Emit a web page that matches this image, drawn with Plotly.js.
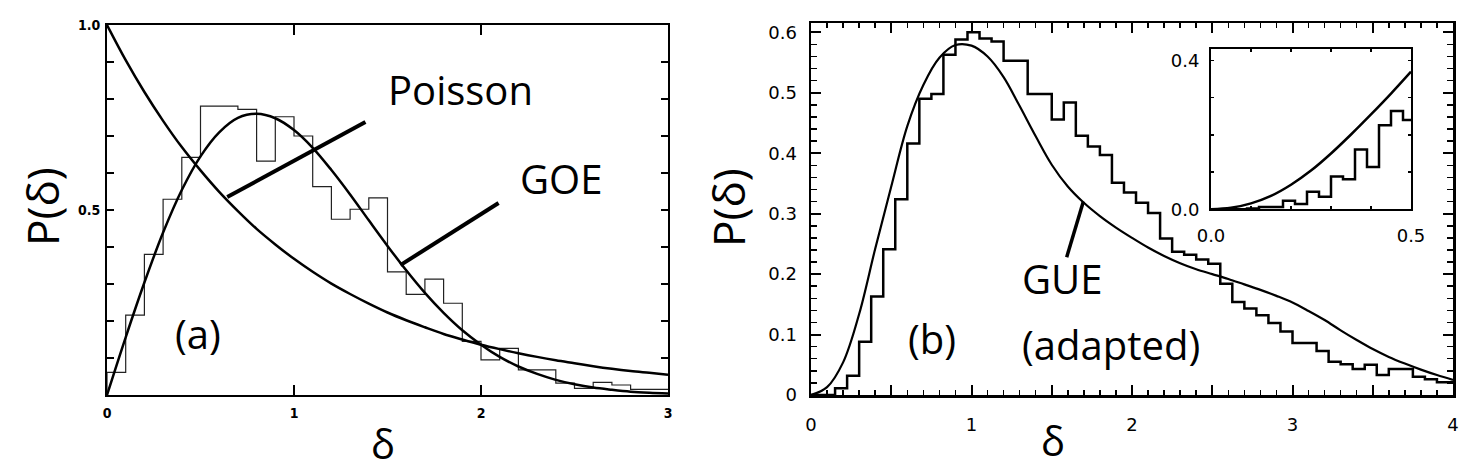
<!DOCTYPE html>
<html>
<head>
<meta charset="utf-8">
<script src="https://cdn.plot.ly/plotly-3.0.1.min.js"></script>
<style>html,body{margin:0;padding:0;background:#fff;}#chart{width:1475px;height:473px;}</style>
</head>
<body>
<div id="chart"></div>
<script>
// ---------- Panel (a) ----------
const aCurveX = [0,0.1,0.2,0.3,0.4,0.5,0.6,0.7,0.8,0.9,1.0,1.1,1.2,1.3,1.4,1.5,1.6,1.7,1.8,1.9,2.0,2.1,2.2,2.3,2.4,2.5,2.6,2.7,2.8,2.9,3.0];
const poissonY = [1.000,0.905,0.819,0.741,0.670,0.607,0.549,0.497,0.449,0.407,0.368,0.333,0.301,0.273,0.247,0.223,0.202,0.183,0.165,0.150,0.136,0.124,0.113,0.103,0.094,0.086,0.078,0.071,0.065,0.060,0.055];
const goeY = [0,0.156,0.304,0.439,0.554,0.645,0.710,0.749,0.760,0.748,0.716,0.668,0.608,0.542,0.472,0.403,0.337,0.276,0.222,0.175,0.136,0.103,0.077,0.057,0.041,0.029,0.020,0.014,0.009,0.006,0.004];
const histAEdges = [0,0.1,0.2,0.3,0.4,0.5,0.6,0.7,0.8,0.9,1.0,1.1,1.2,1.3,1.4,1.5,1.6,1.7,1.8,1.9,2.0,2.1,2.2,2.3,2.4,2.5,2.6,2.7,2.8,2.9,3.0];
const histAValues = [0.061,0.216,0.380,0.529,0.642,0.781,0.781,0.772,0.632,0.752,0.700,0.563,0.475,0.502,0.533,0.333,0.272,0.313,0.248,0.145,0.095,0.126,0.068,0.068,0.032,0.018,0.034,0.027,0.015,0.015];
const aXTickVals = [0,1,2,3];
const aXTickText = ['0','1','2','3'];
const aYTickVals = [0,0.1,0.2,0.3,0.4,0.5,0.6,0.7,0.8,0.9,1.0];
const aYTickText = ['','','','','','0.5','','','','','1.0'];

// ---------- Panel (b) ----------
const gueX = [0,0.1,0.2,0.3,0.4,0.5,0.6,0.7,0.8,0.9,1.0,1.1,1.2,1.3,1.4,1.5,1.6,1.7,1.8,1.9,2.0,2.1,2.2,2.3,2.4,2.5,2.6,2.7,2.8,2.9,3.0,3.1,3.2,3.3,3.4,3.5,3.6,3.7,3.8,3.9,4.0];
const gueY = [0,0.013,0.054,0.134,0.242,0.345,0.445,0.513,0.558,0.579,0.578,0.560,0.526,0.478,0.428,0.381,0.345,0.318,0.296,0.277,0.260,0.244,0.230,0.218,0.208,0.200,0.192,0.183,0.174,0.164,0.153,0.139,0.124,0.107,0.091,0.076,0.063,0.052,0.042,0.033,0.025];
const histBEdges = [0,0.075,0.15,0.225,0.3,0.375,0.45,0.525,0.6,0.675,0.75,0.825,0.9,0.975,1.05,1.125,1.2,1.275,1.35,1.425,1.5,1.575,1.65,1.725,1.8,1.875,1.95,2.025,2.1,2.175,2.25,2.325,2.4,2.475,2.55,2.625,2.7,2.775,2.85,2.925,3.0,3.075,3.15,3.225,3.3,3.375,3.45,3.525,3.6,3.675,3.75,3.825,3.9,3.975,4.05];
const histBValues = [0,0,0.011,0.032,0.088,0.163,0.241,0.324,0.416,0.490,0.498,0.563,0.588,0.600,0.590,0.585,0.553,0.553,0.498,0.498,0.456,0.484,0.429,0.411,0.397,0.351,0.335,0.318,0.301,0.259,0.237,0.232,0.224,0.217,0.184,0.154,0.143,0.132,0.119,0.105,0.086,0.086,0.073,0.055,0.051,0.043,0.050,0.033,0.043,0.043,0.030,0.026,0.021,0.021];
const bXTickVals = [0,0.5,1,1.5,2,2.5,3,3.5,4];
const bXTickText = ['0','','1','','2','','3','','4'];

// ---------- Inset of (b) ----------
const insetX = [0,0.05,0.1,0.15,0.2,0.25,0.3,0.35,0.4,0.45,0.5];
const insetCurveY = [0,0.004,0.016,0.036,0.066,0.104,0.150,0.201,0.255,0.311,0.370];
const insetHistEdges = [0,0.03,0.06,0.09,0.12,0.15,0.18,0.21,0.24,0.27,0.30,0.33,0.36,0.39,0.42,0.45,0.48,0.51];
const insetHistValues = [0,0,0,0.002,0.006,0.006,0.023,0.014,0.047,0.034,0.088,0.081,0.161,0.114,0.226,0.264,0.240];
const insetXTickVals = [0,0.1,0.2,0.3,0.4,0.5];
const insetXTickText = ['0.0','','','','','0.5'];
const insetYTickVals = [0,0.1,0.2,0.3,0.4];
const insetYTickText = ['0.0','','','','0.4'];

// Pointer lines (label leaders) in data units
const poissonLeader = {x:[0.643,1.382], y:[0.535,0.738]};
const goeLeader = {x:[1.569,2.094], y:[0.351,0.519]};
const gueLeader = {x:[1.593,1.697], y:[0.228,0.320]};

function stepXY(edges, values){
  const x=[edges[0]], y=[0];
  for(let i=0;i<values.length;i++){ x.push(edges[i]); y.push(values[i]); }
  x.push(edges[values.length]); y.push(values[values.length-1]);
  return {x, y};
}

const hA = stepXY(histAEdges, histAValues);
const hB = stepXY(histBEdges, histBValues);
const hI = stepXY(insetHistEdges, insetHistValues);

const black = '#000';
const traces = [
  {x:hA.x, y:hA.y, xaxis:'x', yaxis:'y', mode:'lines', line:{shape:'hv', color:'#222', width:1.2}, hoverinfo:'skip'},
  {x:aCurveX, y:poissonY, xaxis:'x', yaxis:'y', mode:'lines', line:{shape:'spline', color:black, width:2.5}},
  {x:aCurveX, y:goeY, xaxis:'x', yaxis:'y', mode:'lines', line:{shape:'spline', color:black, width:2.5}},
  {x:poissonLeader.x, y:poissonLeader.y, xaxis:'x', yaxis:'y', mode:'lines', line:{color:black, width:4}},
  {x:goeLeader.x, y:goeLeader.y, xaxis:'x', yaxis:'y', mode:'lines', line:{color:black, width:4}},
  {x:hB.x, y:hB.y, xaxis:'x2', yaxis:'y2', mode:'lines', line:{shape:'hv', color:black, width:2.5}},
  {x:gueX, y:gueY, xaxis:'x2', yaxis:'y2', mode:'lines', line:{shape:'spline', color:black, width:2.2}},
  {x:gueLeader.x, y:gueLeader.y, xaxis:'x2', yaxis:'y2', mode:'lines', line:{color:black, width:3.5}},
  {x:hI.x, y:hI.y, xaxis:'x3', yaxis:'y3', mode:'lines', line:{shape:'hv', color:black, width:2.5}},
  {x:insetX, y:insetCurveY, xaxis:'x3', yaxis:'y3', mode:'lines', line:{shape:'spline', color:black, width:2.5}}
];

const W=1475, H=473;
const px = v => v/W;
const py = v => 1 - v/H;

const tickFontA = {family:'"Liberation Sans Narrow","DejaVu Sans Condensed",sans-serif', size:14, color:black, weight:'bold'};
const tickFontB = {family:'"DejaVu Sans",sans-serif', size:18, color:black};
const labelFont = {family:'"Open Sans",sans-serif', size:40, color:black};
const titleFont = {family:'"Open Sans",sans-serif', size:44, color:black};

const baseAxis = {showgrid:false, zeroline:false, showline:true, linecolor:black, mirror:'allticks', ticks:'inside', tickcolor:black, fixedrange:true};

const layout = {
  width:W, height:H,
  margin:{l:0,r:0,t:0,b:0},
  paper_bgcolor:'#fff', plot_bgcolor:'rgba(0,0,0,0)',
  showlegend:false,
  xaxis:Object.assign({}, baseAxis, {domain:[px(107),px(668)], range:[0,3], anchor:'y', tickmode:'array', tickvals:aXTickVals, ticktext:aXTickText, ticklen:10, tickwidth:2, linewidth:2, tickfont:tickFontA, ticklabelstandoff:4}),
  yaxis:Object.assign({}, baseAxis, {domain:[py(395),py(25)], range:[0,1], anchor:'x', tickmode:'array', tickvals:aYTickVals, ticktext:aYTickText, ticklen:7, tickwidth:1.5, linewidth:2, tickfont:tickFontA, ticklabelstandoff:2}),
  xaxis2:Object.assign({}, baseAxis, {domain:[px(811),px(1453)], range:[0,4], anchor:'y2', tickmode:'array', tickvals:bXTickVals, ticktext:bXTickText, ticklen:10, tickwidth:2, linewidth:2.5, tickfont:tickFontB, ticklabelstandoff:12,
    minor:{dtick:0.1, tick0:0, ticks:'inside', ticklen:5, tickwidth:1.5, tickcolor:black, showgrid:false}}),
  yaxis2:Object.assign({}, baseAxis, {domain:[py(395),py(23.3)], range:[0,0.615], anchor:'x2', tickmode:'linear', tick0:0, dtick:0.1, ticklen:10, tickwidth:2, linewidth:2.5, tickfont:tickFontB, ticklabelstandoff:8,
    minor:{dtick:0.02, tick0:0, ticks:'inside', ticklen:6, tickwidth:1.5, tickcolor:black, showgrid:false}}),
  xaxis3:Object.assign({}, baseAxis, {domain:[px(1211),px(1411)], range:[0,0.5], anchor:'y3', tickmode:'array', tickvals:insetXTickVals, ticktext:insetXTickText, ticklen:3, tickwidth:1.5, linewidth:2, tickfont:tickFontB, ticklabelstandoff:9}),
  yaxis3:Object.assign({}, baseAxis, {domain:[py(209.3),py(49.3)], range:[0,0.43], anchor:'x3', tickmode:'array', tickvals:insetYTickVals, ticktext:insetYTickText, ticklen:3, tickwidth:1.5, linewidth:2, tickfont:tickFontB, ticklabelstandoff:6}),
  annotations:[
    {text:'Poisson', xref:'x', yref:'y', x:1.891, y:0.826, showarrow:false, font:labelFont, xanchor:'center', yanchor:'middle'},
    {text:'GOE', xref:'x', yref:'y', x:2.426, y:0.585, showarrow:false, font:labelFont, xanchor:'center', yanchor:'middle'},
    {text:'(a)', xref:'x', yref:'y', x:0.488, y:0.167, showarrow:false, font:labelFont, xanchor:'center', yanchor:'middle'},
    {text:'(b)', xref:'x2', yref:'y2', x:0.752, y:0.094, showarrow:false, font:labelFont, xanchor:'center', yanchor:'middle'},
    {text:'GUE', xref:'x2', yref:'y2', x:1.3, y:0.193, showarrow:false, font:labelFont, xanchor:'left', yanchor:'middle'},
    {text:'(adapted)', xref:'x2', yref:'y2', x:1.3, y:0.084, showarrow:false, font:labelFont, xanchor:'left', yanchor:'middle'},
    {text:'P(δ)', xref:'paper', yref:'paper', x:px(42), y:py(207), textangle:-90, showarrow:false, font:titleFont, xanchor:'center', yanchor:'middle'},
    {text:'P(δ)', xref:'paper', yref:'paper', x:px(728), y:py(208), textangle:-90, showarrow:false, font:titleFont, xanchor:'center', yanchor:'middle'},
    {text:'δ', xref:'paper', yref:'paper', x:px(383), y:py(443), showarrow:false, font:labelFont, xanchor:'center', yanchor:'middle'},
    {text:'δ', xref:'paper', yref:'paper', x:px(1053), y:py(440), showarrow:false, font:labelFont, xanchor:'center', yanchor:'middle'}
  ]
};

Plotly.newPlot('chart', traces, layout, {staticPlot:true, displayModeBar:false});
</script>
</body>
</html>
